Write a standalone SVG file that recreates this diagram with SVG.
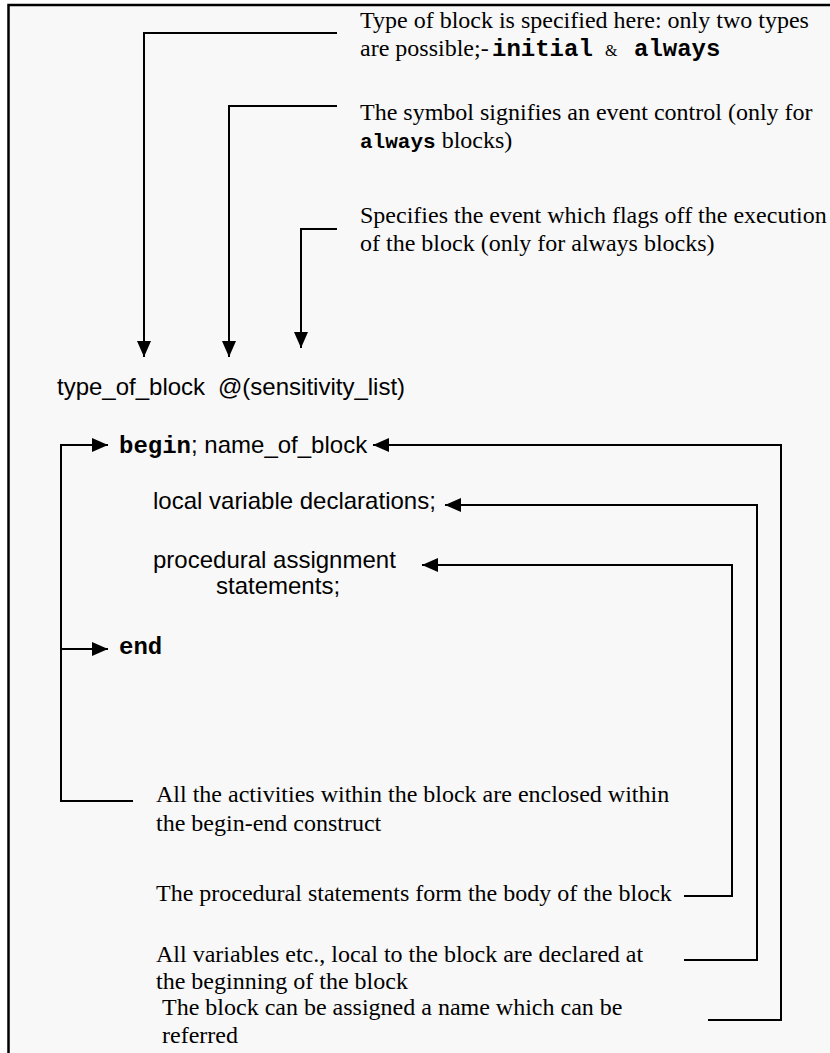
<svg xmlns="http://www.w3.org/2000/svg" width="830" height="1053" viewBox="0 0 830 1053">
<style>
.serif{font-family:"Liberation Serif","Times New Roman",serif;font-size:24px;fill:#000}
.sans{font-family:"Liberation Sans",Arial,sans-serif;font-size:24px;fill:#000}
.mono{font-family:"Liberation Mono","Courier New",monospace;font-size:24px;font-weight:bold;fill:#000}
.amp{font-family:"Liberation Serif","Times New Roman",serif;font-size:16px;fill:#000}
.conn{fill:none;stroke:#000;stroke-width:2}
</style>
<defs>
<marker id="arr" viewBox="0 0 16 14" refX="16" refY="7" markerWidth="16" markerHeight="14" markerUnits="userSpaceOnUse" orient="auto">
<path d="M0,0 L16,7 L0,14 z" fill="#000"/>
</marker>
</defs>
<rect x="0" y="0" width="830" height="1053" fill="#ffffff"/>
<rect x="8.5" y="5" width="840" height="1070" fill="#f8f8f8" stroke="#000" stroke-width="2.5"/>

<g id="connectors">
<path class="conn" d="M337,33 H144 V357" marker-end="url(#arr)"/>
<path class="conn" d="M337,106 H229 V357" marker-end="url(#arr)"/>
<path class="conn" d="M337,229 H301 V348" marker-end="url(#arr)"/>
<path class="conn" d="M133,801 H61 V445 H108" marker-end="url(#arr)"/>
<path class="conn" d="M61,649 H108" marker-end="url(#arr)"/>
<path class="conn" d="M708,1020 H781 V445 H373" marker-end="url(#arr)"/>
<path class="conn" d="M684,960 H757 V505 H445" marker-end="url(#arr)"/>
<path class="conn" d="M684,896 H732 V565 H422" marker-end="url(#arr)"/>
</g>

<g id="note-type">
<text class="serif" x="360" y="28">Type of block is specified here: only two types</text>
<text class="serif" x="360" y="56">are possible;-</text>
<text class="mono" x="492" y="56">initial</text>
<text class="amp" x="605" y="56">&amp;</text>
<text class="mono" x="634" y="56">always</text>
</g>
<g id="note-symbol">
<text class="serif" x="360" y="120">The symbol signifies an event control (only for</text>
<text class="serif" x="360" y="148"><tspan class="mono" style="font-size:21px">always</tspan> blocks)</text>
</g>
<g id="note-event">
<text class="serif" x="360" y="223">Specifies the event which flags off the execution</text>
<text class="serif" x="360" y="251">of the block (only for always blocks)</text>
</g>

<g id="header">
<text class="sans" x="57" y="395">type_of_block</text>
<text class="sans" x="218" y="395">@(sensitivity_list)</text>
</g>
<g id="begin">
<text class="sans" x="119" y="453"><tspan class="mono">begin</tspan>; name_of_block</text>
</g>
<g id="local-vars">
<text class="sans" x="153" y="509">local variable declarations;</text>
</g>
<g id="proc-stmts">
<text class="sans" x="153" y="568">procedural assignment</text>
<text class="sans" x="216" y="594">statements;</text>
</g>
<g id="end">
<text class="mono" x="119" y="654">end</text>
</g>

<g id="note-beginend">
<text class="serif" x="156" y="802">All the activities within the block are enclosed within</text>
<text class="serif" x="156" y="831">the begin-end construct</text>
</g>
<g id="note-body">
<text class="serif" x="156" y="901">The procedural statements form the body of the block</text>
</g>
<g id="note-vars">
<text class="serif" x="156" y="962">All variables etc., local to the block are declared at</text>
<text class="serif" x="156" y="989">the beginning of the block</text>
</g>
<g id="note-name">
<text class="serif" x="162" y="1015">The block can be assigned a name which can be</text>
<text class="serif" x="162" y="1043">referred</text>
</g>
</svg>
